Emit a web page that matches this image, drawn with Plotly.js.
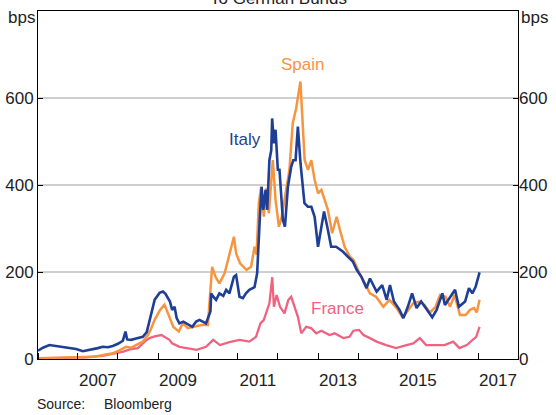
<!DOCTYPE html>
<html>
<head>
<meta charset="utf-8">
<script src="https://cdn.plot.ly/plotly-3.0.1.min.js"></script>
<style>html,body{margin:0;padding:0;background:#fff}#chart{width:556px;height:415px}</style>
</head>
<body>
<div id="chart"></div>
<script>
// ---- Data (spreads to German Bunds, bps) ----
const italyDates = ['2006-01-01','2006-02-15','2006-04-15','2006-06-01','2006-08-15','2006-10-15','2006-12-15','2007-02-15','2007-04-01','2007-05-15','2007-07-01','2007-08-15','2007-10-01','2007-11-15','2008-01-01','2008-02-15','2008-03-10','2008-03-25','2008-05-01','2008-06-15','2008-08-15','2008-09-20','2008-10-15','2008-10-30','2008-12-01','2009-01-15','2009-02-15','2009-03-10','2009-04-05','2009-04-20','2009-05-10','2009-06-01','2009-06-20','2009-07-15','2009-08-20','2009-10-01','2009-11-10','2009-12-15','2010-01-15','2010-03-15','2010-04-25','2010-05-01','2010-05-15','2010-06-15','2010-07-15','2010-08-20','2010-09-15','2010-10-15','2010-11-25','2010-12-15','2011-01-15','2011-02-15','2011-03-15','2011-04-15','2011-06-01','2011-06-25','2011-07-10','2011-07-20','2011-08-05','2011-08-20','2011-09-10','2011-09-25','2011-10-15','2011-11-01','2011-11-09','2011-11-25','2011-12-10','2011-12-31','2012-01-15','2012-02-15','2012-03-05','2012-04-01','2012-05-01','2012-05-20','2012-06-10','2012-07-01','2012-07-25','2012-08-30','2012-09-30','2012-11-01','2012-12-01','2013-01-01','2013-02-01','2013-02-25','2013-04-01','2013-05-01','2013-06-15','2013-08-15','2013-10-01','2013-11-15','2013-12-20','2014-02-01','2014-03-20','2014-04-20','2014-06-20','2014-08-10','2014-09-20','2014-10-20','2014-11-25','2015-01-15','2015-02-20','2015-04-01','2015-05-10','2015-06-20','2015-08-01','2015-09-20','2015-11-10','2015-12-20','2016-02-10','2016-03-05','2016-04-15','2016-06-05','2016-07-10','2016-09-05','2016-10-10','2016-11-10','2016-12-10','2016-12-31','2017-01-15'];
const italyBps = [19,26,32,30,27,25,23,18,20,22,25,28,27,30,35,42,63,45,44,47,51,62,90,105,136,152,155,150,136,132,113,120,94,82,86,80,74,86,90,82,110,151,145,136,151,145,159,151,189,193,143,140,151,159,165,197,289,327,396,343,389,343,457,480,553,496,527,435,435,320,304,396,442,457,457,534,450,358,350,350,327,258,304,339,297,258,258,247,235,224,205,189,163,185,155,170,136,170,132,113,94,120,151,117,132,113,96,113,151,124,140,159,120,132,163,151,166,185,199];

const spainDates = ['2006-01-01','2006-06-01','2006-12-01','2007-06-01','2007-09-01','2007-11-15','2008-01-15','2008-03-15','2008-05-01','2008-07-01','2008-08-15','2008-10-01','2008-10-25','2008-12-01','2009-01-20','2009-03-01','2009-04-10','2009-05-20','2009-07-10','2009-08-15','2009-10-01','2009-12-01','2010-02-01','2010-04-01','2010-05-10','2010-06-10','2010-07-15','2010-09-01','2010-11-25','2010-12-15','2011-01-20','2011-03-20','2011-05-01','2011-06-01','2011-06-20','2011-07-10','2011-08-01','2011-08-25','2011-09-15','2011-10-10','2011-10-30','2011-11-15','2011-12-10','2012-01-10','2012-02-05','2012-03-15','2012-04-15','2012-05-15','2012-06-15','2012-07-24','2012-08-10','2012-09-01','2012-10-01','2012-11-01','2012-12-01','2013-01-01','2013-02-01','2013-03-01','2013-04-01','2013-05-10','2013-06-20','2013-07-20','2013-09-01','2013-10-20','2013-11-20','2014-01-15','2014-03-01','2014-04-20','2014-06-15','2014-08-20','2014-10-15','2014-12-20','2015-02-10','2015-03-20','2015-05-20','2015-07-20','2015-09-01','2015-10-20','2015-12-10','2016-01-20','2016-03-10','2016-04-20','2016-06-01','2016-07-20','2016-09-10','2016-10-20','2016-11-25','2016-12-20','2017-01-15'];
const spainBps = [2,3,3,5,10,13,20,28,26,35,40,55,67,90,113,125,97,74,63,82,71,74,78,78,212,189,174,197,281,243,220,205,212,258,240,358,396,327,392,335,392,457,366,304,327,392,435,542,576,638,549,457,435,457,412,381,389,366,343,289,327,297,258,235,228,197,174,151,143,120,136,117,96,107,128,132,124,107,120,147,143,120,147,101,101,113,117,107,136];

const franceDates = ['2006-01-01','2006-06-01','2006-12-01','2007-03-15','2007-08-15','2007-12-01','2008-02-20','2008-05-01','2008-07-01','2008-09-01','2008-10-15','2008-12-01','2009-02-01','2009-04-15','2009-05-10','2009-07-15','2009-09-15','2009-12-20','2010-03-15','2010-05-20','2010-07-20','2010-10-15','2011-01-15','2011-04-15','2011-06-15','2011-07-25','2011-08-25','2011-10-15','2011-11-10','2011-11-25','2011-12-20','2012-01-20','2012-03-01','2012-04-05','2012-05-01','2012-06-01','2012-07-01','2012-08-01','2012-09-15','2012-10-30','2012-12-15','2013-02-01','2013-04-15','2013-06-01','2013-08-20','2013-10-15','2013-11-20','2014-01-10','2014-02-20','2014-04-20','2014-06-20','2014-09-15','2014-12-15','2015-03-20','2015-05-20','2015-07-20','2015-09-15','2015-12-01','2016-03-01','2016-05-20','2016-07-15','2016-09-20','2016-11-01','2016-12-15','2017-01-15'];
const franceBps = [1,2,3,4,7,13,17,23,25,40,48,52,55,44,36,28,25,21,28,44,32,39,44,40,51,82,90,128,188,120,147,120,105,136,143,120,97,59,74,71,59,65,55,59,48,51,65,67,55,48,40,32,25,32,36,48,32,32,32,40,25,32,41,51,74];

const xTickVals = ['2007-07-02','2009-07-02','2011-07-02','2013-07-02','2015-07-02','2017-07-02'];
const xTickText = ['2007','2009','2011','2013','2015','2017'];
const yearStarts = ['2006-01-01','2007-01-01','2008-01-01','2009-01-01','2010-01-01','2011-01-01','2012-01-01','2013-01-01','2014-01-01','2015-01-01','2016-01-01','2017-01-01','2018-01-01'];
const yTicks = [0,200,400,600];

const cItaly = '#1f3f97', cSpain = '#f79440', cFrance = '#ef6381';
const font = 'Liberation Sans, Arial, sans-serif';

const traces = [
  {x: franceDates, y: franceBps, type:'scatter', mode:'lines', line:{color:cFrance, width:2.3}, hoverinfo:'skip'},
  {x: spainDates, y: spainBps, type:'scatter', mode:'lines', line:{color:cSpain, width:2.5}, hoverinfo:'skip'},
  {x: italyDates, y: italyBps, type:'scatter', mode:'lines', line:{color:cItaly, width:2.6}, yaxis:'y2', hoverinfo:'skip'}
];

const layout = {
  width:556, height:415,
  margin:{l:38, r:38, t:11, b:56},
  paper_bgcolor:'#fff', plot_bgcolor:'#fff',
  showlegend:false,
  font:{family:font, size:17, color:'#222'},
  xaxis:{type:'date', range:['2006-01-01','2018-01-01'], tickmode:'array', tickvals:xTickVals, ticktext:xTickText,
         ticks:'', showgrid:false, showline:true, linecolor:'#000', linewidth:1, mirror:true, zeroline:false,
         ticklabelstandoff:6,
         minor:{tickmode:'array', tickvals:yearStarts, ticks:'inside', ticklen:6, tickcolor:'#000', tickwidth:1, showgrid:false}},
  yaxis:{range:[0,800], tickmode:'array', tickvals:yTicks, showgrid:true, gridcolor:'#cfcfcf', gridwidth:1.2,
         zeroline:false, showline:true, linecolor:'#000', linewidth:1, mirror:true, ticks:'inside', ticklen:5, tickcolor:'#000'},
  yaxis2:{range:[0,800], overlaying:'y', side:'right', tickmode:'array', tickvals:yTicks, showgrid:false, zeroline:false,
          showline:false, ticks:'inside', ticklen:5, tickcolor:'#000'},
  annotations:[
    {text:'To German Bunds', xref:'paper', yref:'paper', x:0.5, y:1.035, xanchor:'center', yanchor:'middle', showarrow:false, font:{size:17, color:'#222'}},
    {text:'bps', xref:'paper', yref:'paper', x:-0.035, y:0.98, xanchor:'center', yanchor:'middle', showarrow:false},
    {text:'bps', xref:'paper', yref:'paper', x:1.035, y:0.98, xanchor:'center', yanchor:'middle', showarrow:false},
    {text:'Spain', xref:'x', yref:'y', x:'2012-08-08', y:678, showarrow:false, font:{color:cSpain, size:17}},
    {text:'Italy', xref:'x', yref:'y', x:'2011-03-03', y:505, showarrow:false, font:{color:cItaly, size:17}},
    {text:'France', xref:'x', yref:'y', x:'2013-07-01', y:117, showarrow:false, font:{color:cFrance, size:17}},
    {text:'Source:', xref:'paper', yref:'paper', x:-0.006, y:-0.129, xanchor:'left', yanchor:'middle', showarrow:false, font:{size:14}},
    {text:'Bloomberg', xref:'paper', yref:'paper', x:0.134, y:-0.129, xanchor:'left', yanchor:'middle', showarrow:false, font:{size:14}}
  ]
};

Plotly.newPlot('chart', traces, layout, {staticPlot:true, displayModeBar:false});
</script>
</body>
</html>
